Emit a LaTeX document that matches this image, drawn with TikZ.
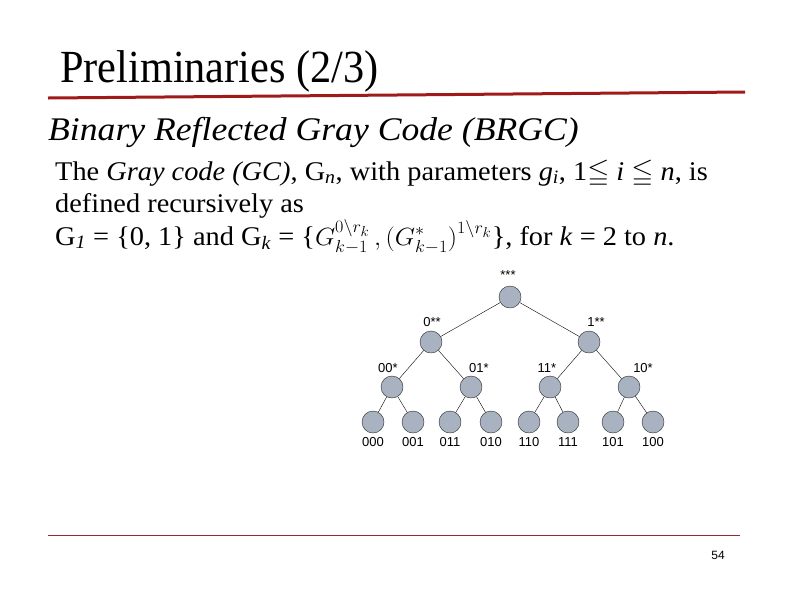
\documentclass[tikz,border=0pt]{standalone}
\usepackage{fontspec}
\usepackage{amssymb}
\setmainfont{Liberation Serif}
\newfontfamily\lblfont{Liberation Sans}
\definecolor{slidered}{RGB}{160,26,26}
\definecolor{footred}{RGB}{150,45,45}
\definecolor{vgray}{RGB}{168,178,192}
\tikzset{
	vtx/.style={circle, draw=black!85, fill=vgray, thin, minimum size=22pt, inner sep=0pt},
	lbl/.style={font=\lblfont\fontsize{13}{13}\selectfont, inner sep=0pt},
	body/.style={anchor=base west, inner sep=0pt, font=\fontsize{27}{27}\selectfont},
}
\begin{document}
\begin{tikzpicture}[x=1pt, y=-1pt]
	\useasboundingbox (0,0) rectangle (794,595);
	% title
	\node[anchor=base west, inner sep=0pt] (title) at (60,82) {\scalebox{0.92}[1]{\fontsize{46}{46}\selectfont Preliminaries (2/3)}};
	\draw[slidered, line width=3pt] (48,98) -- (745,92);
	\node[anchor=base west, inner sep=0pt] (sub) at (48,140) {\scalebox{1.08}[1]{\fontsize{33}{33}\selectfont\itshape Binary Reflected Gray Code (BRGC)}};
	% text
	\node[body] (l1) at (55,180) {\scalebox{1.05}[1]{The \textit{Gray code (GC)}, G\textsubscript{\textit{n}}, with parameters \textit{g}\textsubscript{\textit{i}}, 1$\leqq$ \textit{i} $\leqq$ \textit{n}, is}};
	\node[body] (l2) at (55,212) {\scalebox{1.05}[1]{defined recursively as}};
	\node[body] (l3) at (55,245) {\scalebox{1.05}[1]{G\textsubscript{\textit{1}} = \{0, 1\} and G\textsubscript{\textit{k}} = \{$G_{k-1}^{0\backslash r_k}\,,\Bigl(G_{k-1}^{*}\Bigr)^{1\backslash r_k}$\}, for \textit{k} = 2 to \textit{n}.}};
	% tree
	\node[vtx] (r) at (510,297) {};
	\node[vtx] (r0) at (431,342) {};
	\node[vtx] (r1) at (589,342) {};
	\node[vtx] (r00) at (392,387) {};
	\node[vtx] (r01) at (471,387) {};
	\node[vtx] (r11) at (550,387) {};
	\node[vtx] (r10) at (629,387) {};
	\foreach \nm/\x in {000/373,001/413,011/450,010/491,110/529,111/568,101/613,100/653}{
		\node[vtx] (r\nm) at (\x,422) {};
		\node[lbl, anchor=north] (t\nm) at (\x,437) {\nm};
	}
	\draw (r) -- (r0) (r) -- (r1);
	\draw (r0) -- (r00) (r0) -- (r01) (r1) -- (r11) (r1) -- (r10);
	\draw (r00) -- (r000) (r00) -- (r001) (r01) -- (r011) (r01) -- (r010);
	\draw (r11) -- (r110) (r11) -- (r111) (r10) -- (r101) (r10) -- (r100);
	\node[lbl] (t) at (508,275) {***};
	\node[lbl] (t0) at (432,322) {0**};
	\node[lbl] (t1) at (596,322) {1**};
	\node[lbl] (t00) at (388,368) {00*};
	\node[lbl] (t01) at (479,368) {01*};
	\node[lbl] (t11) at (547,368) {11*};
	\node[lbl] (t10) at (643,368) {10*};
	% footer
	\draw[footred, thin] (48,535) -- (740,535);
	\node[lbl, font=\lblfont\fontsize{12}{12}\selectfont] (page) at (718,555) {54};
\end{tikzpicture}
\end{document}
